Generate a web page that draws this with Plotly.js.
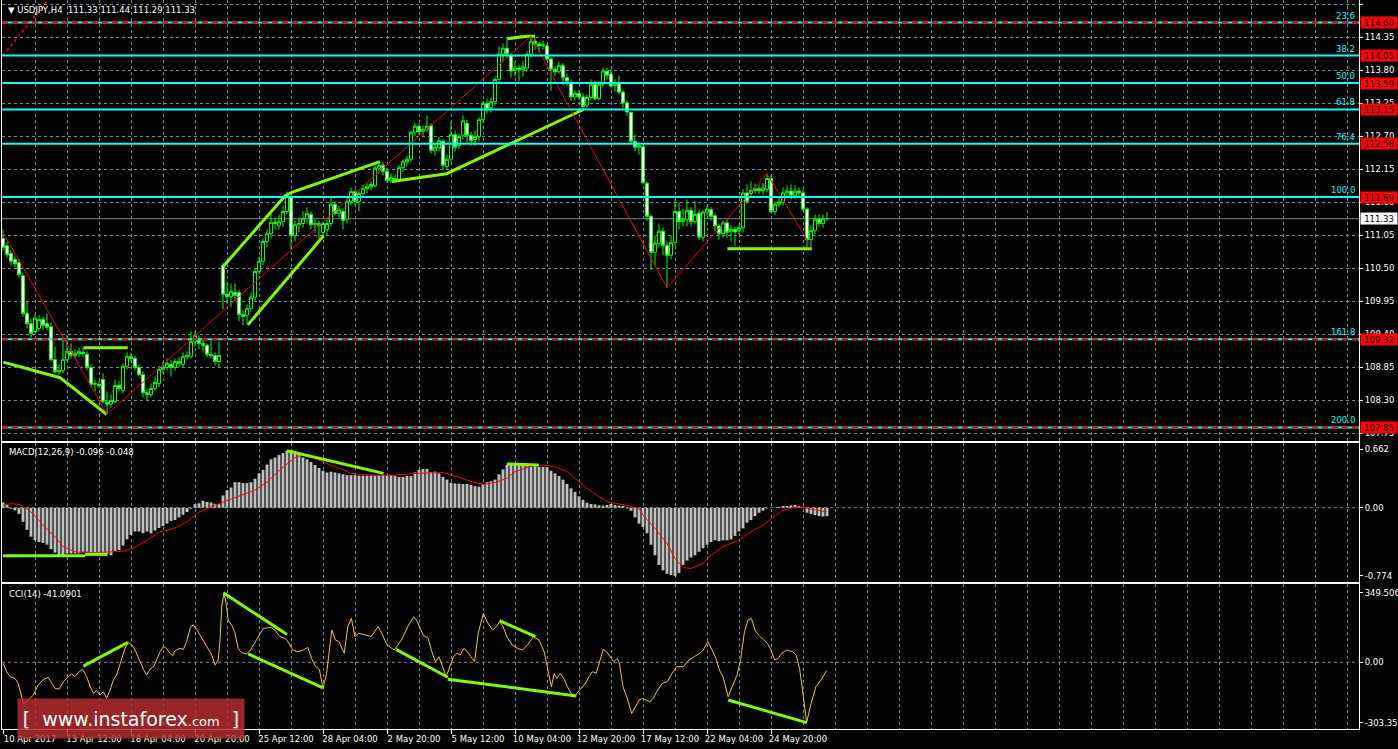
<!DOCTYPE html>
<html><head><meta charset="utf-8">
<script src="https://cdn.plot.ly/plotly-3.0.1.min.js"></script>
<style>html,body{margin:0;padding:0;background:#000;}#chart{width:1398px;height:749px;}</style>
</head><body><div id="chart"></div>
<script>
// ---------- price data (H4 bars, USDJPY) ----------
const open = [111.00,110.88,110.75,110.65,110.60,110.38,109.75,109.58,109.45,109.50,
109.65,109.58,109.53,108.98,108.80,108.80,108.98,109.12,109.05,109.08,
109.10,109.07,108.85,108.57,108.57,108.65,108.27,108.24,108.28,108.55,
108.47,108.87,109.03,109.00,108.85,108.73,108.43,108.40,108.50,108.58,
108.82,108.85,108.90,108.85,108.95,108.90,109.03,109.03,109.28,109.30,
109.25,109.22,109.07,109.05,108.95,110.55,110.07,110.03,110.10,110.10,
109.73,109.72,109.83,110.02,110.45,110.62,110.95,111.08,111.27,111.22,
111.28,111.45,111.70,111.05,111.23,111.25,111.33,111.40,111.23,111.25,
111.10,111.15,111.25,111.57,111.42,111.45,111.32,111.62,111.78,111.62,
111.75,111.83,111.86,111.88,112.17,112.22,112.12,111.97,112.00,111.98,
112.18,112.28,112.32,112.77,112.87,112.78,112.82,112.88,112.47,112.51,
112.62,112.20,112.32,112.73,112.55,112.72,112.92,112.72,112.65,112.70,
112.98,113.25,113.18,113.28,113.65,114.07,114.17,114.05,113.80,113.84,
113.82,113.84,114.07,114.29,114.24,114.21,114.21,113.99,113.82,113.78,
113.88,113.68,113.60,113.36,113.42,113.36,113.22,113.35,113.57,113.33,
113.57,113.79,113.74,113.55,113.59,113.44,113.26,113.10,112.62,112.52,
112.53,111.92,111.37,110.77,110.92,111.12,110.88,110.72,110.93,111.45,
111.28,111.32,111.47,111.28,111.42,111.02,111.44,111.48,111.38,111.21,
111.08,111.26,111.12,111.15,111.13,111.18,111.76,111.75,111.80,111.83,
111.80,111.82,112.00,111.45,111.57,111.60,111.76,111.79,111.72,111.79,
111.76,111.49,110.98,111.13,111.32,111.25,111.33];
const high = [111.15,110.95,110.80,110.70,110.66,110.42,109.95,109.66,109.75,109.72,
109.70,109.75,109.60,109.20,108.90,109.35,109.40,109.25,109.15,109.18,
109.18,109.12,108.90,108.65,108.62,108.75,108.45,108.40,108.65,108.62,
108.92,109.10,109.10,109.05,108.90,108.78,108.50,108.58,108.70,108.88,
108.95,109.00,108.98,109.00,109.02,109.10,109.12,109.45,109.45,109.38,
109.32,109.25,109.30,109.10,109.28,110.60,110.27,110.25,110.25,110.15,
109.80,109.90,110.10,110.50,110.70,111.00,111.15,111.45,111.35,111.40,
111.55,111.78,111.75,111.30,111.35,111.45,111.52,111.45,111.32,111.30,
111.28,111.32,111.70,111.62,111.55,111.50,111.68,111.85,111.82,111.80,
111.90,111.92,111.95,112.22,112.27,112.28,112.18,112.08,112.06,112.22,
112.32,112.38,112.80,112.92,112.92,112.88,113.05,112.92,112.58,112.70,
112.66,112.40,112.95,112.80,112.75,113.05,112.98,112.78,112.80,113.02,
113.30,113.33,113.35,113.70,114.20,114.25,114.34,114.10,113.95,113.90,
113.95,114.12,114.37,114.35,114.28,114.30,114.25,114.02,113.88,113.95,
113.93,113.75,113.65,113.47,113.48,113.42,113.40,113.65,113.62,113.62,
113.85,113.85,113.82,113.65,113.72,113.48,113.30,113.12,112.73,112.60,
112.55,111.95,111.40,111.05,111.25,111.18,110.95,111.05,111.65,111.60,
111.50,111.65,111.52,111.62,111.48,111.48,111.55,111.52,111.42,111.25,
111.30,111.32,111.22,111.20,111.25,111.82,111.90,111.95,111.92,111.90,
111.92,112.08,112.05,111.62,111.68,111.85,111.88,111.90,111.88,111.85,
111.82,111.52,111.22,111.40,111.40,111.40,111.44];
const low = [110.80,110.68,110.55,110.52,110.35,109.70,109.50,109.35,109.40,109.45,
109.48,109.48,108.95,108.75,108.72,108.75,108.95,109.00,109.00,109.02,
109.02,108.80,108.52,108.45,108.50,108.25,108.07,108.18,108.25,108.45,
108.42,108.82,108.95,108.80,108.70,108.35,108.30,108.35,108.45,108.52,
108.75,108.80,108.70,108.80,108.85,108.85,108.98,109.00,109.20,109.15,
109.10,109.02,109.00,108.88,108.85,109.82,109.90,109.85,109.95,109.62,
109.55,109.58,109.78,109.95,110.40,110.55,110.85,111.00,111.15,111.15,
111.20,111.40,110.82,110.95,111.10,111.18,111.25,111.15,111.10,111.00,
111.00,111.05,111.20,111.38,111.35,111.15,111.25,111.55,111.55,111.45,
111.68,111.75,111.80,111.85,112.08,112.05,111.92,111.92,111.93,111.95,
112.10,112.20,112.28,112.70,112.72,112.70,112.78,112.42,112.38,112.45,
112.15,112.15,112.28,112.45,112.50,112.65,112.60,112.55,112.55,112.62,
112.92,113.08,113.10,113.22,113.60,113.95,114.00,113.68,113.70,113.62,
113.70,113.78,114.02,114.15,114.10,114.15,113.95,113.46,113.70,113.75,
113.55,113.55,113.30,113.30,113.30,113.15,113.18,113.30,113.30,113.30,
113.52,113.65,113.50,113.45,113.40,113.18,113.05,112.58,112.45,112.40,
111.90,111.30,110.48,110.55,110.85,110.72,110.18,110.65,110.88,111.15,
111.20,111.20,111.20,111.25,110.98,110.95,111.38,111.30,111.12,110.98,
111.02,111.00,110.95,110.88,111.05,111.10,111.58,111.70,111.75,111.74,
111.72,111.78,111.42,111.40,111.52,111.55,111.70,111.65,111.65,111.70,
111.45,110.85,110.85,111.08,111.20,111.18,111.29];
const close = [110.85,110.73,110.62,110.58,110.40,109.75,109.58,109.42,109.67,109.65,
109.55,109.52,108.98,108.78,108.78,108.98,109.12,109.05,109.08,109.12,
109.08,108.85,108.57,108.58,108.55,108.28,108.24,108.30,108.55,108.50,
108.87,109.03,109.00,108.85,108.73,108.43,108.40,108.50,108.60,108.82,
108.85,108.92,108.85,108.95,108.92,109.03,109.05,109.28,109.38,109.25,
109.22,109.07,109.05,108.95,109.05,110.07,110.03,110.12,110.05,109.73,
109.70,109.83,110.02,110.45,110.62,110.95,111.08,111.27,111.25,111.28,
111.45,111.73,111.05,111.23,111.25,111.33,111.42,111.23,111.25,111.22,
111.25,111.25,111.57,111.42,111.48,111.30,111.62,111.78,111.62,111.75,
111.83,111.87,111.90,112.17,112.22,112.12,111.97,112.02,111.98,112.18,
112.28,112.32,112.77,112.87,112.78,112.82,112.87,112.47,112.52,112.63,
112.22,112.32,112.73,112.52,112.70,112.96,112.72,112.63,112.70,112.98,
113.25,113.15,113.28,113.65,114.07,114.17,114.08,113.79,113.84,113.82,
113.86,114.07,114.29,114.24,114.21,114.23,113.99,113.82,113.78,113.88,
113.68,113.62,113.36,113.42,113.36,113.20,113.35,113.57,113.33,113.57,
113.79,113.72,113.54,113.59,113.44,113.26,113.11,112.62,112.52,112.55,
111.93,111.37,110.77,110.92,111.12,110.88,110.72,110.93,111.45,111.28,
111.32,111.47,111.28,111.40,111.02,111.44,111.49,111.37,111.21,111.08,
111.26,111.10,111.15,111.11,111.18,111.76,111.62,111.80,111.83,111.80,
111.84,112.00,111.45,111.57,111.61,111.76,111.79,111.72,111.79,111.76,
111.49,110.98,111.13,111.32,111.25,111.33,111.33];

// MACD(12,26,9) histogram and signal
const macd = [0.06,0.03,-0.01,-0.03,-0.07,-0.16,-0.25,-0.33,-0.37,-0.39,
-0.40,-0.42,-0.47,-0.51,-0.54,-0.54,-0.52,-0.52,-0.52,-0.52,
-0.50,-0.50,-0.52,-0.52,-0.52,-0.52,-0.53,-0.54,-0.49,-0.48,
-0.43,-0.36,-0.31,-0.27,-0.27,-0.29,-0.27,-0.29,-0.26,-0.23,
-0.21,-0.18,-0.15,-0.14,-0.11,-0.08,-0.05,-0.01,0.04,0.05,
0.08,0.065,0.06,0.045,0.04,0.14,0.20,0.23,0.29,0.29,
0.28,0.28,0.29,0.33,0.39,0.43,0.49,0.55,0.57,0.60,
0.62,0.65,0.655,0.625,0.60,0.57,0.55,0.52,0.485,0.45,
0.42,0.40,0.41,0.40,0.39,0.38,0.37,0.37,0.37,0.365,
0.365,0.365,0.365,0.365,0.37,0.37,0.37,0.37,0.36,0.35,
0.35,0.36,0.36,0.40,0.43,0.44,0.44,0.405,0.41,0.39,
0.35,0.32,0.285,0.275,0.275,0.27,0.27,0.26,0.245,0.24,
0.27,0.29,0.30,0.32,0.38,0.435,0.485,0.495,0.495,0.495,
0.485,0.47,0.465,0.48,0.465,0.465,0.46,0.42,0.39,0.36,
0.32,0.27,0.22,0.18,0.13,0.09,0.057,0.042,0.038,0.027,
0.023,0.03,0.042,0.03,0.023,0.019,-0.008,-0.034,-0.11,-0.18,
-0.22,-0.29,-0.42,-0.54,-0.65,-0.71,-0.75,-0.765,-0.775,-0.74,
-0.65,-0.60,-0.565,-0.54,-0.50,-0.46,-0.42,-0.39,-0.37,-0.38,
-0.37,-0.37,-0.36,-0.32,-0.27,-0.235,-0.17,-0.14,-0.095,-0.057,
-0.034,-0.008,0.0,0.004,0.011,0.019,0.019,0.027,0.03,0.019,
0.011,-0.057,-0.072,-0.083,-0.095,-0.10,-0.096];
const signalBar = [0,2,4,6,8,10,13,15,18,20,23,26,30,33,36,39,43,46,49,53,56,59,63,66,69,73,75,78,81,84,87,92,98,103,108,110,114,118,120,123,126,128,132,135,138,141,143,146,149,151,153,156,159,160,163,166,168,170,172,175,177,180,184,187,190,193,195,198,200,202,206];
const signal = [0.03,0.045,0.04,-0.01,-0.09,-0.20,-0.33,-0.44,-0.50,-0.51,-0.51,-0.50,-0.495,-0.45,-0.37,-0.28,-0.23,-0.16,-0.05,0.03,0.08,0.13,0.20,0.29,0.42,0.57,0.60,0.56,0.50,0.45,0.39,0.37,0.37,0.39,0.40,0.40,0.345,0.285,0.265,0.285,0.335,0.41,0.47,0.485,0.465,0.41,0.335,0.22,0.125,0.07,0.05,0.027,-0.008,-0.083,-0.235,-0.405,-0.575,-0.68,-0.69,-0.63,-0.54,-0.44,-0.37,-0.27,-0.20,-0.10,-0.027,0.004,0.004,-0.015,-0.048];

// CCI(14) (bar position, value)
const cciBar = [0.08,0.92,1.75,3.0,3.8,4.7,5.1,5.9,6.75,7.6,8.8,10.1,11.3,12.2,13.0,14.1,15.1,16.3,17.2,18.0,18.8,19.9,20.9,21.75,22.6,23.4,24.25,25.1,25.9,26.75,27.6,28.4,29.4,30.5,31.3,32.2,33.0,34.25,35.1,35.9,36.75,37.75,38.4,39.25,40.1,40.9,41.75,42.4,43.0,44.25,45.1,45.9,46.9,47.6,48.4,49.25,50.1,50.9,52.2,53.0,53.8,54.25,54.7,55.25,55.9,56.3,57.2,58.0,58.8,59.7,60.9,61.75,62.6,63.8,65.1,66.3,67.2,68.0,
69.25,70.6,71.5,72.4,73.7,75.05,76.2,77.3,78.2,79.1,80.0,80.9,81.75,82.2,83.1,84.0,84.9,85.3,86.2,87.1,88.0,88.9,90.7,92.0,93.8,94.7,96.0,97.8,99.6,101.4,102.7,103.6,105.0,106.3,107.2,108.1,109.0,109.9,110.8,111.7,112.6,113.5,114.3,115.2,116.1,117.0,117.9,118.8,120.1,121.0,122.4,123.3,124.2,125.05,125.95,127.3,128.6,129.96,131.3,132.6,134.0,135.3,136.2,137.1,137.8,138.45,139.3,140.2,141.1,142.0,142.9,144.25,145.6,146.5,147.4,148.3,149.2,150.05,150.9,151.8,152.7,153.6,154.1,155.0,155.9,157.2,158.1,159.0,159.9,160.8,161.7,162.6,163.4,164.8,166.1,167.0,168.4,170.1,171.5,172.8,174.2,175.05,176.2,177.3,178.2,179.1,180.0,181.3,182.2,183.5,184.4,185.3,186.2,187.1,188.0,188.9,190.2,191.1,192.0,192.9,193.8,194.7,196.0,197.4,198.3,199.2,200.1,200.9,201.8,203.2,204.5,205.9];
const cci = [-5,-47,-72,-81,-106,-181,-206,-198,-181,-164,-114,-86,-76,-106,-131,-134,-97,-72,-59,-72,-52,-35,-72,-119,-156,-142,-164,-148,-181,-139,-89,-64,-5,70,99,87,62,3,-35,-64,-35,-19,15,53,79,70,45,32,58,70,65,104,179,187,166,137,112,87,37,-14,12,112,280,349.5069,280,212,187,146,70,48,42,58,87,129,171,174,174,162,
129,120,95,62,53,62,75,12,-22,-36,-131,-56,79,162,112,104,62,45,179,221,129,146,137,129,179,146,87,62,112,187,229,204,137,120,53,3,28,-22,-72,-22,28,45,37,70,53,28,3,146,246,204,162,179,204,179,129,87,70,62,92,129,112,53,-39,-123,-56,-81,-56,-81,-123,-156,-169,-139,-106,-72,-47,-55,12,65,53,28,3,20,-5,-123,-173,-257,-223,-190,-181,-190,-198,-181,-148,-106,-97,-64,-22,-22,12,28,45,62,104,62,20,-39,-72,-173,-131,-64,12,146,212,221,162,137,112,95,62,12,20,45,62,53,37,-39,-173,-303.352,-223,-123,-89,-41.0901];

// ---------- axes / levels ----------
const priceTicks = [114.90,114.35,113.80,113.25,112.70,112.15,111.60,111.05,110.50,109.95,109.40,108.85,108.30,107.75];
const macdTicks = [0.662, 0, -0.774];
const macdTickText = ['0.662','0.00','-0.774'];
const cciTicks = [349.5069, 0, -303.352];
const cciTickText = ['349.5069','0.00','-303.352'];
const timeTickBars = [0,16,32,48,64,80,96,112,128,144,160,176,192];
const timeTickText = ['10 Apr 2017','13 Apr 12:00','18 Apr 04:00','20 Apr 20:00','25 Apr 12:00','28 Apr 04:00','2 May 20:00','5 May 12:00','10 May 04:00','12 May 20:00','17 May 12:00','22 May 04:00','24 May 20:00'];
const fibLevels = [114.60,114.05,113.59,113.15,112.58,111.69,109.32,107.85];
const fibLabels = ['23.6','38.2','50.0','61.8','76.4','100.0','161.8','200.0'];
const redDashLevels = [114.60,109.32,107.85];
const lastPrice = 111.33;

// ---------- drawn objects ----------
const zigzagBar = [0,26,132,166,191,202];
const zigzagPrice = [111.10,108.07,114.37,110.18,112.08,110.87];
const fibTrendBar = [0,12];
const fibTrendPrice = [114.05,115.04];
const greenPrice = [
  {x:[0.08,14.25,25.9], y:[108.94,108.68,108.07]},
  {x:[20.1,31.2], y:[109.18,109.18]},
  {x:[55,70.5,72.2,94.25], y:[110.53,111.71,111.77,112.28]},
  {x:[61.2,80.1], y:[109.56,111.04]},
  {x:[97.2,110.9,145.1], y:[111.95,112.08,113.15]},
  {x:[126.1,130.9,133], y:[114.33,114.37,114.37]},
  {x:[181.1,202.2], y:[110.83,110.83]}
];
const greenMacd = [
  {x:[0,20.5], y:[-0.545,-0.545]},
  {x:[20.5,26.1], y:[-0.53,-0.53]},
  {x:[71,95.15], y:[0.648,0.39]},
  {x:[125.95,133.97], y:[0.497,0.486]}
];
const greenCci = [
  {x:[20.1,31.2], y:[-19,100]},
  {x:[55.1,71], y:[349,140]},
  {x:[61.3,80], y:[42,-128]},
  {x:[98.25,111.2], y:[65,-75]},
  {x:[111.2,143.35], y:[-85,-169]},
  {x:[124.15,133.1], y:[209,129]},
  {x:[181.3,200.95], y:[-189,-303]}
];

const bars = open.map((_, i) => i);
const n = bars.length - 1;

// ---------- traces ----------
const GREEN = '#7cfc00', GRID = 'rgb(119,136,153)', FONT = 'DejaVu Sans';
const traces = [];
traces.push({type:'scatter', mode:'lines', x:fibTrendBar, y:fibTrendPrice, xaxis:'x', yaxis:'y',
  line:{color:'#ff0000', width:1.5, dash:'dot'}, hoverinfo:'skip'});
traces.push({type:'candlestick', x:bars, open:open, high:high, low:low, close:close, xaxis:'x', yaxis:'y',
  increasing:{line:{color:'#00ff00', width:1}, fillcolor:'#000000'},
  decreasing:{line:{color:'#00ff00', width:1}, fillcolor:'#ffffff'},
  whiskerwidth:0, hoverinfo:'skip'});
greenPrice.forEach(g => traces.push({type:'scatter', mode:'lines', x:g.x, y:g.y, xaxis:'x', yaxis:'y',
  line:{color:GREEN, width:3}, hoverinfo:'skip'}));
traces.push({type:'scatter', mode:'lines', x:zigzagBar, y:zigzagPrice, xaxis:'x', yaxis:'y',
  line:{color:'#ff0000', width:1}, hoverinfo:'skip'});

traces.push({type:'bar', x:bars, y:macd, xaxis:'x2', yaxis:'y2', width:0.72,
  marker:{color:'#c0c0c0', line:{width:0}}, hoverinfo:'skip'});
traces.push({type:'scatter', mode:'lines', x:signalBar, y:signal, xaxis:'x2', yaxis:'y2',
  line:{color:'#ff0000', width:1}, hoverinfo:'skip'});
greenMacd.forEach(g => traces.push({type:'scatter', mode:'lines', x:g.x, y:g.y, xaxis:'x2', yaxis:'y2',
  line:{color:GREEN, width:3}, hoverinfo:'skip'}));

traces.push({type:'scatter', mode:'lines', x:cciBar, y:cci, xaxis:'x3', yaxis:'y3',
  line:{color:'#ffc20e', width:1}, hoverinfo:'skip'});
greenCci.forEach(g => traces.push({type:'scatter', mode:'lines', x:g.x, y:g.y, xaxis:'x3', yaxis:'y3',
  line:{color:GREEN, width:3}, hoverinfo:'skip'}));

// ---------- layout ----------
const tickFont = {family:FONT, size:8.5, color:'#ffffff'};
const xBase = {range:[-0.25,339], showline:true, linecolor:'#ffffff', linewidth:1, mirror:true,
  zeroline:false, showgrid:true, gridcolor:GRID, griddash:'3px,3px', gridwidth:1,
  tickmode:'array', tickvals:timeTickBars, ticktext:timeTickText,
  minor:{tick0:0, dtick:8, showgrid:true, gridcolor:GRID, griddash:'3px,3px', gridwidth:1, ticks:''},
  fixedrange:true, tickfont:tickFont};
const yBase = {side:'right', showline:true, linecolor:'#ffffff', linewidth:1, mirror:true,
  zeroline:false, ticks:'outside', ticklen:3, tickcolor:'#ffffff', tickmode:'array',
  automargin:false, fixedrange:true, tickfont:tickFont};

const shapes = [];
shapes.push({type:'line', xref:'paper', x0:0, x1:1, yref:'y', y0:lastPrice, y1:lastPrice,
  line:{color:GRID, width:1}, layer:'below'});
fibLevels.forEach(l => shapes.push({type:'line', xref:'paper', x0:0, x1:1, yref:'y', y0:l, y1:l,
  line:{color:'#00ffff', width:2}, layer:'above'}));
redDashLevels.forEach(l => shapes.push({type:'line', xref:'paper', x0:0, x1:1, yref:'y', y0:l, y1:l,
  line:{color:'#ff0000', width:2, dash:'6px,4px'}, layer:'above'}));
shapes.push({type:'line', xref:'paper', x0:0, x1:1, yref:'y2', y0:0, y1:0,
  line:{color:GRID, width:1, dash:'3px,3px'}, layer:'below'});
shapes.push({type:'line', xref:'paper', x0:0, x1:1, yref:'y3', y0:0, y1:0,
  line:{color:GRID, width:1, dash:'3px,3px'}, layer:'below'});

const annotations = [];
annotations.push({xref:'paper', yref:'paper', x:0, y:1, xanchor:'left', yanchor:'top', xshift:4, yshift:-3,
  showarrow:false, font:{family:FONT, size:8.5, color:'#ffffff'},
  text:'\u25BC USDJPY,H4\u00a0\u00a0' + [open[n],high[n],low[n],close[n]].map(v=>v.toFixed(2)).join(' ')});
annotations.push({xref:'paper', yref:'y2 domain', x:0, y:1, xanchor:'left', yanchor:'top', xshift:5, yshift:-2,
  showarrow:false, font:{family:FONT, size:8.5, color:'#ffffff'},
  text:'MACD(12,26,9) ' + macd[n].toFixed(3) + ' ' + signal[signal.length-1].toFixed(3)});
annotations.push({xref:'paper', yref:'y3 domain', x:0, y:1, xanchor:'left', yanchor:'top', xshift:5, yshift:-3,
  showarrow:false, font:{family:FONT, size:8.5, color:'#ffffff'},
  text:'CCI(14) ' + cci[cci.length-1].toFixed(4)});
fibLevels.forEach((l, i) => annotations.push({xref:'paper', yref:'y', x:1, y:l, xanchor:'right', yanchor:'bottom',
  xshift:-2, yshift:0, showarrow:false, font:{family:FONT, size:8.5, color:'#00ffff'}, text:fibLabels[i]}));
fibLevels.forEach(l => annotations.push({xref:'paper', yref:'y', x:1, y:l, xanchor:'left', yanchor:'middle',
  xshift:1, showarrow:false, bgcolor:'#ff0000', borderpad:0, width:36, height:11,
  font:{family:FONT, size:8.5, color:'#000000'}, text:l.toFixed(2)}));
annotations.push({xref:'paper', yref:'y', x:1, y:lastPrice, xanchor:'left', yanchor:'middle',
  xshift:1, showarrow:false, bgcolor:'#ffffff', borderpad:0, width:36, height:11,
  font:{family:FONT, size:8.5, color:'#000000'}, text:lastPrice.toFixed(2)});
annotations.push({xref:'paper', yref:'paper', x:0.01105, y:0.0425, xanchor:'left', yanchor:'top',
  showarrow:false, bgcolor:'rgba(185,45,45,0.82)', borderpad:0, width:226, height:39,
  font:{family:FONT, size:19, color:'#ffffff'},
  text:'[\u00a0\u00a0www.instaforex<span style="font-size:13px">.com</span>\u00a0\u00a0]'});

const layout = {
  width:1398, height:749, margin:{l:2, r:39, t:0, b:20, pad:0},
  paper_bgcolor:'#000000', plot_bgcolor:'#000000', showlegend:false,
  font:{family:FONT, size:8.5, color:'#ffffff'},
  xaxis: Object.assign({}, xBase, {anchor:'y', showticklabels:false, ticks:'', rangeslider:{visible:false}}),
  xaxis2: Object.assign({}, xBase, {anchor:'y2', matches:'x', showticklabels:false, ticks:''}),
  xaxis3: Object.assign({}, xBase, {anchor:'y3', matches:'x', showticklabels:true, ticks:'outside',
    ticklen:4, tickcolor:'#ffffff', ticklabelshift:27, ticklabelstandoff:-2}),
  yaxis: Object.assign({}, yBase, {domain:[0.3951,1], anchor:'x', range:[107.625,114.975],
    tickvals:priceTicks, ticktext:priceTicks.map(v=>v.toFixed(2)),
    showgrid:true, gridcolor:GRID, griddash:'3px,3px', gridwidth:1}),
  yaxis2: Object.assign({}, yBase, {domain:[0.2016,0.3923], anchor:'x2', range:[-0.844,0.735],
    tickvals:macdTicks, ticktext:macdTickText, showgrid:false}),
  yaxis3: Object.assign({}, yBase, {domain:[0,0.1989], anchor:'x3', range:[-335,393.5],
    tickvals:cciTicks, ticktext:cciTickText, showgrid:false}),
  bargap:0.25, boxgap:0.25, boxgroupgap:0,
  shapes:shapes, annotations:annotations
};

Plotly.newPlot('chart', traces, layout, {displayModeBar:false, staticPlot:true});
</script>
</body></html>
